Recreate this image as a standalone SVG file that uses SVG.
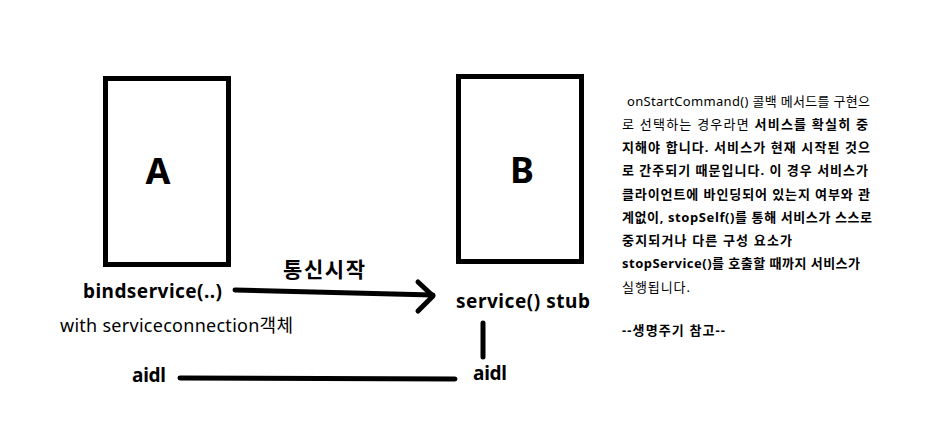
<svg xmlns="http://www.w3.org/2000/svg" width="938" height="438" viewBox="0 0 938 438">
<style>
.box{fill:#fff;stroke:#000;stroke-width:5}
.ln{fill:none;stroke:#000;stroke-width:5;stroke-linecap:round;stroke-linejoin:round}
.big{font-family:"Noto Sans","Noto Sans CJK KR",sans-serif;font-weight:bold;font-size:36px;fill:#000}
.lbl{font-family:"Noto Sans","Noto Sans CJK KR",sans-serif;font-weight:bold;font-size:19px;fill:#000}
.kor{font-size:21px}
.nrm{font-family:"Noto Sans","Noto Sans CJK KR",sans-serif;font-size:18px;fill:#000}
.note{font-family:"Noto Sans","Noto Sans CJK KR",sans-serif;font-size:13px;fill:#000}
.b{font-weight:bold}
</style>
<rect width="938" height="438" fill="#fff"/>
<g id="nodeA">
<rect class="box" x="105.5" y="78.5" width="123" height="186"/>
<text class="big" x="158" y="184" text-anchor="middle">A</text>
</g>
<g id="nodeB">
<rect class="box" x="458.5" y="76.5" width="123" height="185"/>
<text class="big" x="522" y="183" text-anchor="middle">B</text>
</g>
<g id="labels">
<text class="lbl" x="83" y="298" textLength="139">bindservice(..)</text>
<text class="nrm" x="60" y="332" textLength="233">with serviceconnection객체</text>
<text class="lbl kor" x="283" y="277" textLength="82">통신시작</text>
<text class="lbl" x="456" y="308" textLength="134">service() stub</text>
<text class="lbl" x="132" y="382" textLength="34">aidl</text>
<text class="lbl" x="473" y="380" textLength="34">aidl</text>
</g>
<g id="connectors">
<path class="ln" d="M235 290 L433 295"/>
<path class="ln" d="M418 282 L433 296 L418 311"/>
<path class="ln" d="M180 378 L455 379"/>
<path class="ln" d="M483 323 L483 357"/>
</g>
<g id="note">
<text class="note" x="627" y="106" textLength="243">onStartCommand() 콜백 메서드를 구현으</text>
<text class="note" x="622" y="129" textLength="246">로 선택하는 경우라면 <tspan class="b">서비스를 확실히 중</tspan></text>
<text class="note b" x="622" y="152" textLength="248">지해야 합니다. 서비스가 현재 시작된 것으</text>
<text class="note b" x="622" y="175" textLength="246">로 간주되기 때문입니다. 이 경우 서비스가</text>
<text class="note b" x="622" y="199" textLength="248">클라이언트에 바인딩되어 있는지 여부와 관</text>
<text class="note b" x="622" y="222" textLength="250">계없이, stopSelf()를 통해 서비스가 스스로</text>
<text class="note b" x="622" y="245" textLength="170">중지되거나 다른 구성 요소가</text>
<text class="note b" x="622" y="268" textLength="238">stopService()를 호출할 때까지 서비스가</text>
<text class="note" x="622" y="292" textLength="68">실행됩니다.</text>
<text class="note b" x="622" y="335" textLength="103">--생명주기 참고--</text>
</g>
</svg>
